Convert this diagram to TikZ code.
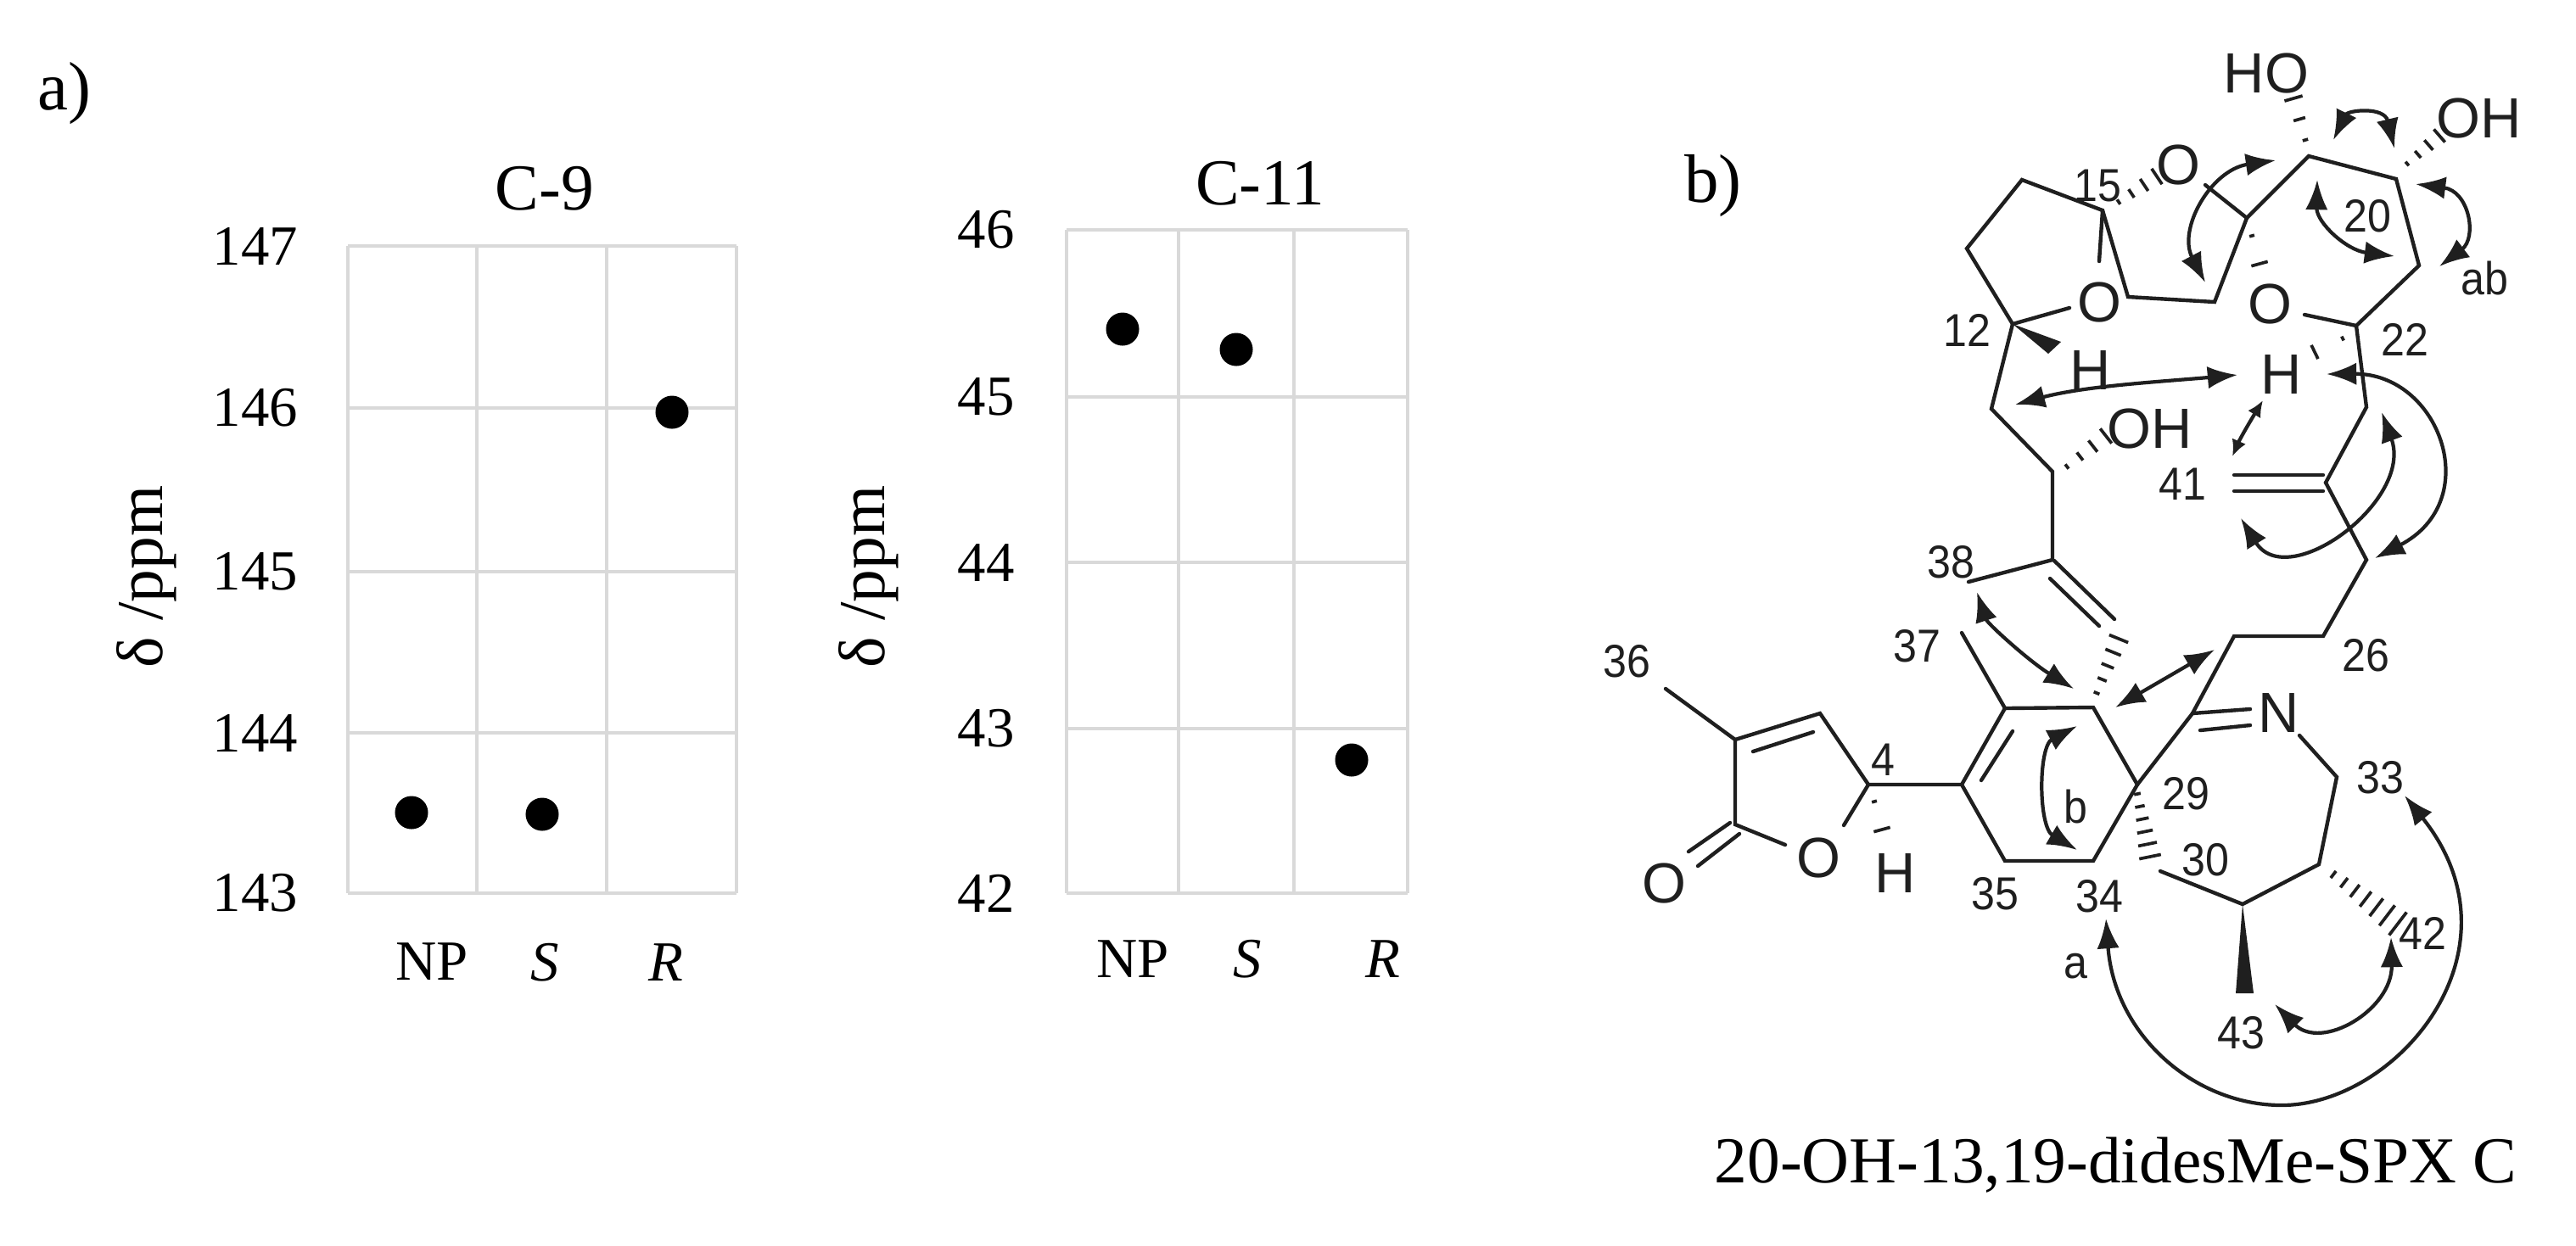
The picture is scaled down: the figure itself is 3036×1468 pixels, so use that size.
\documentclass[tikz,border=0pt]{standalone}
\usepackage{fontspec}
\setmainfont{Liberation Serif}
\newfontfamily\molfont{Liberation Sans}
\newfontfamily\numfont[FakeStretch=0.92]{Liberation Sans}
\usetikzlibrary{arrows.meta}
\usetikzlibrary{calc}
\definecolor{gridgray}{HTML}{D9D9D9}
\definecolor{bondblack}{HTML}{1F1F1F}
\tikzset{
  gridline/.style = {draw=gridgray, line width=1.3pt},
  plotdot/.style = {circle, fill=black, inner sep=0pt, minimum size=0.39cm},
  tickno/.style = {inner sep=0pt, font=\fontsize{19}{19}\selectfont},
  plottitle/.style = {inner sep=0pt, font=\fontsize{22}{22}\selectfont},
  bond/.style = {draw=bondblack, line width=1.25pt, line cap=round},
  atomlabel/.style = {inner sep=0pt, text=bondblack, font=\molfont\fontsize{19}{19}\selectfont},
  numlabel/.style = {inner sep=0pt, text=bondblack, font=\numfont\fontsize{15.5}{15.5}\selectfont},
  corr/.style = {draw=bondblack, line width=1.2pt, {Latex[length=10pt,width=7.5pt]}-{Latex[length=10pt,width=7.5pt]}},
  shortcorr/.style = {draw=bondblack, line width=1.2pt, {Latex[length=5.5pt,width=5pt]}-{Latex[length=5.5pt,width=5pt]}}
}
% #1,#2 ends (narrow first), #3 number of gaps, #4 half width at the wide end
\newcommand{\hashbond}[4]{
  \foreach \hidx in {0,...,#3} {
    \pgfmathsetmacro\hpos{\hidx/#3}
    \pgfmathsetmacro\hwid{(0.3+0.7*\hpos)*#4*0.01}
    \coordinate (hperp) at ($(#1)!\hwid cm!90:(#2)$);
    \draw [bond, line width=1.05pt, line cap=butt] ($(#1)!\hpos!(#2)+(hperp)-(#1)$) -- ($(#1)!\hpos!(#2)-(hperp)+(#1)$);
  }
}
\begin{document}
\begin{tikzpicture}[x=0.01cm, y=-0.01cm]
  \useasboundingbox (0,0) rectangle (3036,1468);

  \node (parta) [inner sep=0pt, font=\fontsize{23}{23}\selectfont] at (76,110) {a)};
  \node (partb) [inner sep=0pt, font=\fontsize{23}{23}\selectfont] at (2019,219) {b)};

  % chart C-9
  \foreach \gx in {410,562,715,868} \draw [gridline] (\gx,290) -- (\gx,1053);
  \foreach \gy/\glab in {290/147,481/146,674/145,864/144,1053/143} {
    \draw [gridline] (410,\gy) -- (868,\gy);
    \node [tickno] at (301,\gy) {\glab};
  }
  \node (nineA) [plotdot] at (485,958) {};
  \node (nineB) [plotdot] at (639,960) {};
  \node (nineC) [plotdot] at (792,486) {};
  \node (nineT) [plottitle] at (642,222) {C-9};
  \node (nineY) [plottitle, rotate=90] at (173,680) {δ /ppm};
  \node (nineNP) [tickno] at (509,1134) {NP};
  \node (nineS) [tickno] at (642,1135) {\itshape S};
  \node (nineR) [tickno] at (785,1135) {\itshape R};

  % chart C-11
  \foreach \gx in {1257,1389,1525,1659} \draw [gridline] (\gx,271) -- (\gx,1053);
  \foreach \gy/\glab in {271/46,468/45,663/44,859/43,1053/42} {
    \draw [gridline] (1257,\gy) -- (1659,\gy);
    \node [tickno] at (1162,\gy) {\glab};
  }
  \node (elevA) [plotdot] at (1323,388) {};
  \node (elevB) [plotdot] at (1457,412) {};
  \node (elevC) [plotdot] at (1593,896) {};
  \node (elevT) [plottitle] at (1485,216) {C-11};
  \node (elevY) [plottitle, rotate=90] at (1024,680) {δ /ppm};
  \node (elevNP) [tickno] at (1335,1131) {NP};
  \node (elevS) [tickno] at (1470,1131) {\itshape S};
  \node (elevR) [tickno] at (1630,1131) {\itshape R};

  % skeleton atoms
  \coordinate (cho) at (2721,184);
  \coordinate (coh) at (2824,211);
  \coordinate (cr) at (2851,313);
  \coordinate (c22) at (2777,384);
  \coordinate (cd) at (2648,257);
  \coordinate (ce) at (2610,356);
  \coordinate (cf) at (2508,350);
  \coordinate (c15) at (2478,248);
  \coordinate (cu) at (2383,212);
  \coordinate (cl) at (2318,293);
  \coordinate (c12) at (2372,382);
  \coordinate (cm) at (2347,482);
  \coordinate (coh2) at (2419,556);
  \coordinate (cdb) at (2419,660);
  \coordinate (c38) at (2320,686);
  \coordinate (c23) at (2789,480);
  \coordinate (c41) at (2741,569);
  \coordinate (c25) at (2789,660);
  \coordinate (c26) at (2738,750);
  \coordinate (c27) at (2633,750);
  \coordinate (cim) at (2584,841);
  \coordinate (c29) at (2519,925);
  \coordinate (c33) at (2754,916);
  \coordinate (c32) at (2733,1019);
  \coordinate (c31) at (2643,1066);
  \coordinate (c30) at (2546,1027);
  \coordinate (c34) at (2467,1015);
  \coordinate (c35) at (2363,1015);
  \coordinate (cv) at (2312,925);
  \coordinate (c37) at (2363,835);
  \coordinate (cw) at (2467,834);
  \coordinate (c37e) at (2312,746);
  \coordinate (c4) at (2202,925);
  \coordinate (cb) at (2145,841);
  \coordinate (ca) at (2045,872);
  \coordinate (cco) at (2045,972);
  \coordinate (c36) at (1963,812);

  % bond ends at the hetero atoms
  \coordinate (otop) at (2599,218);
  \coordinate (oring) at (2716,371);
  \coordinate (oleft) at (2439,363);
  \coordinate (ofold) at (2474,308);
  \coordinate (nend) at (2710,867);
  \coordinate (ofura) at (2173,973);
  \coordinate (ofurb) at (2104,996);

  \node (ho) [atomlabel] at (2671,86) {HO};
  \node (oh) [atomlabel] at (2922,139) {OH};
  \node (otoplab) [atomlabel] at (2567,194) {O};
  \node (oleftlab) [atomlabel] at (2474,356) {O};
  \node (oringlab) [atomlabel] at (2675,358) {O};
  \node (hleft) [atomlabel] at (2464,436) {H};
  \node (hright) [atomlabel] at (2689,441) {H};
  \node (ohmid) [atomlabel] at (2534,505) {OH};
  \node (nlab) [atomlabel] at (2686,840) {N};
  \node (ofur) [atomlabel] at (2143,1011) {O};
  \node (ocarb) [atomlabel] at (1961,1041) {O};
  \node (hfur) [atomlabel] at (2234,1029) {H};

  \node (n4) [numlabel] at (2219,896) {4};
  \node (n12) [numlabel] at (2318,389) {12};
  \node (n15) [numlabel] at (2472,219) {15};
  \node (n20) [numlabel] at (2790,255) {20};
  \node (n22) [numlabel] at (2834,400) {22};
  \node (n26) [numlabel] at (2788,773) {26};
  \node (n29) [numlabel] at (2576,936) {29};
  \node (n30) [numlabel] at (2599,1014) {30};
  \node (n33) [numlabel] at (2805,917) {33};
  \node (n34) [numlabel] at (2474,1057) {34};
  \node (n35) [numlabel] at (2351,1054) {35};
  \node (n36) [numlabel] at (1917,780) {36};
  \node (n37) [numlabel] at (2259,762) {37};
  \node (n38) [numlabel] at (2299,663) {38};
  \node (n41) [numlabel] at (2572,571) {41};
  \node (n42) [numlabel] at (2855,1100) {42};
  \node (n43) [numlabel] at (2641,1218) {43};
  \node (nab) [numlabel] at (2928,328) {ab};
  \node (na) [numlabel] at (2446,1139) {a};
  \node (nb) [numlabel] at (2446,951) {b};

  \node (caption) [plottitle, anchor=west] at (2020,1374) {20-OH-13,19-didesMe-SPX C};

  % single bonds
  \draw [bond] (otop) -- (cd) -- (cho) -- (coh) -- (cr) -- (c22) -- (oring);
  \draw [bond] (cd) -- (ce) -- (cf) -- (c15) -- (cu) -- (cl) -- (c12) -- (oleft);
  \draw [bond] (c15) -- (ofold);
  \draw [bond] (c12) -- (cm) -- (coh2) -- (cdb) -- (c38);
  \draw [bond] (c22) -- (c23) -- (c41) -- (c25) -- (c26) -- (c27) -- (cim) -- (c29);
  \draw [bond] (nend) -- (c33) -- (c32) -- (c31) -- (c30);
  \draw [bond] (c29) -- (c34) -- (c35) -- (cv) -- (c37) -- (cw) -- (c29);
  \draw [bond] (c37) -- (c37e);
  \draw [bond] (cv) -- (c4) -- (cb) -- (ca) -- (cco) -- (ofurb);
  \draw [bond] (c4) -- (ofura);
  \draw [bond] (ca) -- (c36);

  % second lines of the double bonds
  \coordinate (dbla) at (2633,560);
  \coordinate (dblb) at (2738,560);
  \coordinate (dblc) at (2633,579);
  \coordinate (dbld) at (2738,579);
  \draw [bond] (dbla) -- (dblb);
  \draw [bond] (dblc) -- (dbld);
  \coordinate (vina) at (2421,661);
  \coordinate (vinb) at (2492,730);
  \coordinate (vinc) at (2416,682);
  \coordinate (vind) at (2474,738);
  \draw [bond] (vina) -- (vinb);
  \draw [bond] (vinc) -- (vind);
  \coordinate (ima) at (2652,836);
  \coordinate (imb) at (2593,861);
  \coordinate (imc) at (2652,855);
  \draw [bond] (cim) -- (ima);
  \draw [bond] (imb) -- (imc);
  \coordinate (rina) at (2335,920);
  \coordinate (rinb) at (2372,862);
  \draw [bond] (rina) -- (rinb);
  \coordinate (fura) at (2066,886);
  \coordinate (furb) at (2137,863);
  \draw [bond] (fura) -- (furb);
  \coordinate (coa) at (2039,970);
  \coordinate (cob) at (1990,1004);
  \coordinate (coc) at (2050,983);
  \coordinate (cod) at (2001,1021);
  \draw [bond] (coa) -- (cob);
  \draw [bond] (coc) -- (cod);

  % solid wedges
  \coordinate (wedHa) at (2429,403);
  \coordinate (wedHb) at (2414,417);
  \fill [bondblack] (c12) -- (wedHa) -- (wedHb) -- cycle;
  \coordinate (wedMa) at (2635,1171);
  \coordinate (wedMb) at (2656,1171);
  \fill [bondblack] (c31) -- (wedMa) -- (wedMb) -- cycle;

  % hashed wedges
  \coordinate (hasha) at (2497,238);
  \coordinate (hashb) at (2542,208);
  \hashbond{hasha}{hashb}{3}{11}
  \coordinate (hashc) at (2654,278);
  \coordinate (hashd) at (2663,311);
  \hashbond{hashc}{hashd}{1}{10}
  \coordinate (hashe) at (2717,165);
  \coordinate (hashf) at (2703,116);
  \hashbond{hashe}{hashf}{2}{11}
  \coordinate (hashg) at (2837,193);
  \coordinate (hashh) at (2875,160);
  \hashbond{hashg}{hashh}{3}{10}
  \coordinate (hashi) at (2761,399);
  \coordinate (hashj) at (2728,415);
  \hashbond{hashi}{hashj}{1}{9}
  \coordinate (hashk) at (2436,550);
  \coordinate (hashl) at (2482,514);
  \hashbond{hashk}{hashl}{3}{11}
  \coordinate (hashm) at (2471,817);
  \coordinate (hashn) at (2497,753);
  \hashbond{hashm}{hashn}{4}{12}
  \coordinate (hasho) at (2209,945);
  \coordinate (hashp) at (2218,978);
  \hashbond{hasho}{hashp}{1}{10}
  \coordinate (hashq) at (2519,936);
  \coordinate (hashr) at (2534,1010);
  \hashbond{hashq}{hashr}{5}{13}
  \coordinate (hashs) at (2750,1031);
  \coordinate (hasht) at (2826,1089);
  \hashbond{hashs}{hasht}{6}{17}

  % correlation arrows
  \coordinate (koa) at (2750,165);
  \coordinate (kob) at (2822,175);
  \draw [corr] (koa) .. controls (2767,130) and (2810,125) .. (kob);
  \coordinate (kca) at (2682,189);
  \coordinate (kcb) at (2599,333);
  \draw [corr] (kca) .. controls (2606,200) and (2566,270) .. (kcb);
  \coordinate (kda) at (2731,212);
  \coordinate (kdb) at (2822,302);
  \draw [corr] (kda) .. controls (2730,262) and (2765,295) .. (kdb);
  \coordinate (kea) at (2847,217);
  \coordinate (keb) at (2875,314);
  \draw [corr] (kea) .. controls (2910,225) and (2920,280) .. (keb);
  \coordinate (kfa) at (2375,477);
  \coordinate (kfb) at (2637,442);
  \draw [corr] (kfa) .. controls (2457,455) and (2546,450) .. (kfb);
  \coordinate (kga) at (2667,472);
  \coordinate (kgb) at (2631,538);
  \draw [shortcorr] (kga) .. controls (2656,490) and (2641,515) .. (kgb);
  \coordinate (kha) at (2742,441);
  \coordinate (khb) at (2799,658);
  \draw [corr] (kha) .. controls (2875,440) and (2930,590) .. (khb);
  \coordinate (kia) at (2807,486);
  \coordinate (kib) at (2641,611);
  \draw [corr] (kia) .. controls (2845,590) and (2696,700) .. (kib);
  \coordinate (kja) at (2330,698);
  \coordinate (kjb) at (2444,812);
  \draw [corr] (kja) .. controls (2342,735) and (2392,780) .. (kjb);
  \coordinate (kka) at (2493,834);
  \coordinate (kkb) at (2610,766);
  \draw [corr] (kka) -- (kkb);
  \coordinate (kla) at (2448,856);
  \coordinate (klb) at (2448,1002);
  \draw [corr] (kla) .. controls (2402,880) and (2402,975) .. (klb);
  \coordinate (kma) at (2482,1083);
  \coordinate (kmm) at (2689,1303);
  \coordinate (kmb) at (2834,938);
  \draw [corr] (kma) .. controls (2492,1220) and (2586,1303) .. (kmm) .. controls (2825,1303) and (2980,1120) .. (kmb);
  \coordinate (kna) at (2818,1105);
  \coordinate (knb) at (2681,1184);
  \draw [corr] (kna) .. controls (2820,1190) and (2736,1240) .. (knb);
\end{tikzpicture}
\end{document}
